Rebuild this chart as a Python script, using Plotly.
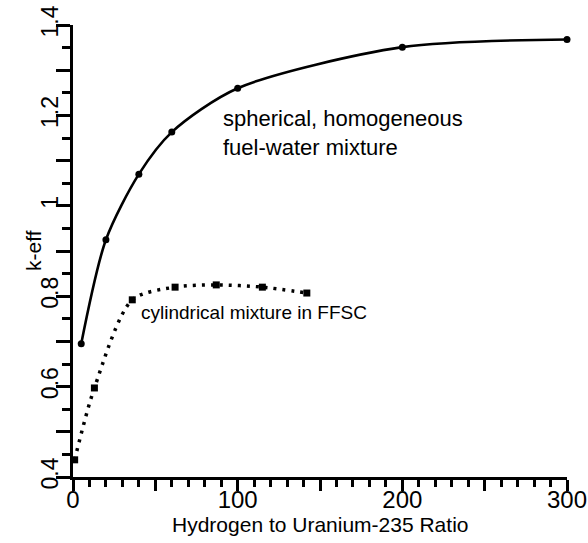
import plotly.graph_objects as go

# Data
sph_x = [5, 20, 40, 60, 100, 200, 300]
sph_y = [0.695, 0.925, 1.07, 1.163, 1.26, 1.351, 1.368]

cyl_x = [1, 13, 36, 62, 87, 115, 142]
cyl_y = [0.438, 0.597, 0.792, 0.820, 0.825, 0.820, 0.807]

x_tick_vals = [0, 50, 100, 150, 200, 250, 300]
x_tick_text = ["0", "", "100", "", "200", "", "300"]
y_tick_vals = [0.4, 0.5, 0.6, 0.7, 0.8, 0.9, 1.0, 1.1, 1.2, 1.3, 1.4]
y_tick_text = ["0.4", "", "0.6", "", "0.8", "", "1", "", "1.2", "", "1.4"]

x_title = "Hydrogen to Uranium-235 Ratio"
y_title = "k-eff"

FONT = "Liberation Sans, Arial, Helvetica, sans-serif"

fig = go.Figure()
fig.add_trace(go.Scatter(
    x=sph_x, y=sph_y, mode="lines+markers",
    line=dict(color="black", width=2.6, shape="spline", smoothing=0.8),
    marker=dict(color="black", size=7, symbol="circle"),
    cliponaxis=False, showlegend=False,
))
fig.add_trace(go.Scatter(
    x=cyl_x, y=cyl_y, mode="lines+markers",
    line=dict(color="black", width=3.5, dash="3px,6px", shape="spline", smoothing=0.8),
    marker=dict(color="black", size=7, symbol="square"),
    cliponaxis=False, showlegend=False,
))

fig.add_annotation(x=90, y=1.162, xref="x", yref="y", text="spherical, homogeneous<br>fuel-water mixture",
                   showarrow=False, xanchor="left", yanchor="middle", align="left",
                   font=dict(family=FONT, size=22, color="black"))
fig.add_annotation(x=40, y=0.763, xref="x", yref="y", text="cylindrical mixture in FFSC",
                   showarrow=False, xanchor="left", yanchor="middle", align="left",
                   font=dict(family=FONT, size=19, color="black"))

# axis titles
fig.add_annotation(x=0.5, y=0, xref="paper", yref="paper", yshift=-47, text=x_title,
                   showarrow=False, xanchor="center", yanchor="middle",
                   font=dict(family=FONT, size=21, color="black"))
fig.add_annotation(x=0, y=0.5, xref="paper", yref="paper", xshift=-40, text=y_title, textangle=-90,
                   showarrow=False, xanchor="center", yanchor="middle",
                   font=dict(family=FONT, size=21, color="black"))

fig.update_layout(
    width=588, height=543,
    margin=dict(l=73, r=21, t=25, b=66, autoexpand=False),
    plot_bgcolor="white", paper_bgcolor="white",
    font=dict(family=FONT, size=21, color="black"),
    xaxis=dict(
        range=[0, 300], showgrid=False, zeroline=False, automargin=False,
        showline=True, linecolor="black", linewidth=2.5,
        ticks="outside", ticklen=11, tickwidth=2.5, tickcolor="black",
        tickvals=x_tick_vals, ticktext=x_tick_text,
        tickfont=dict(family=FONT, size=24), ticklabelstandoff=-12,
        ticklabeloverflow="allow",
        minor=dict(dtick=10, tick0=0, ticks="outside", ticklen=7, tickwidth=2.5, tickcolor="black", showgrid=False),
    ),
    yaxis=dict(
        range=[0.4, 1.4], showgrid=False, zeroline=False, automargin=False,
        showline=True, linecolor="black", linewidth=2.5,
        ticks="outside", ticklen=14, tickwidth=2.5, tickcolor="black",
        tickvals=y_tick_vals, ticktext=y_tick_text, tickangle=-90,
        tickfont=dict(family=FONT, size=23), ticklabelstandoff=-11,
        ticklabeloverflow="allow",
        minor=dict(dtick=0.05, tick0=0.4, ticks="outside", ticklen=8, tickwidth=2.5, tickcolor="black", showgrid=False),
    ),
)

fig.write_html("out.html", config={"displayModeBar": False},
               post_script="document.body.style.margin='0px';")
